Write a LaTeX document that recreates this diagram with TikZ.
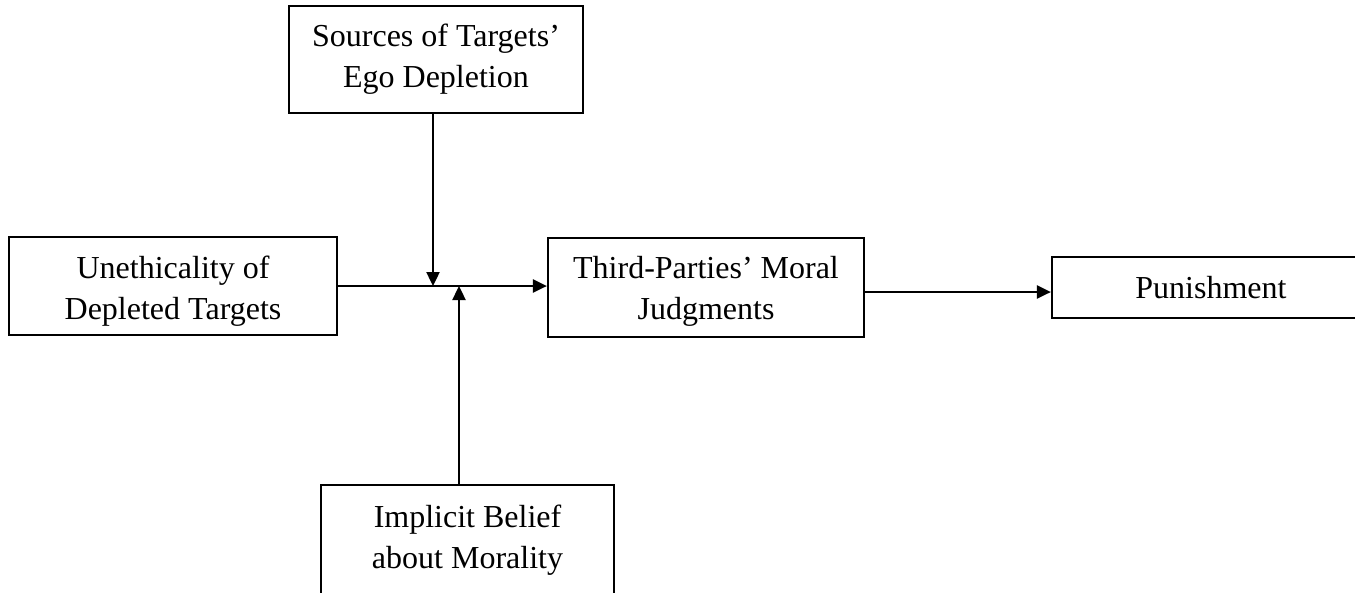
\documentclass[tikz,border=0pt]{standalone}
\usepackage{fontspec}
\setmainfont{Liberation Serif}
\usetikzlibrary{arrows.meta}
\begin{document}
\begin{tikzpicture}[x=1pt,y=-1pt,
  box/.style={draw=black,line width=2.2pt,inner sep=0pt,align=center,
    font=\fontsize{32}{41}\selectfont},
  arr/.style={line width=2.4pt,-{Triangle[length=14pt,width=13pt]}}]
\fill[white] (0,0) rectangle (1355,592);
\useasboundingbox (0,0) rectangle (1355,592);
\node[box,minimum width=294pt,minimum height=107pt] (src) at (436,59.5) {Sources of Targets’\\Ego Depletion};
\node[box,minimum width=328pt,minimum height=98pt] (une) at (173,286) {\rule{0pt}{33pt}Unethicality of\\Depleted Targets};
\node[box,minimum width=316pt,minimum height=99pt] (tp) at (706,287.5) {\rule{0pt}{30pt}Third-Parties’ Moral\\Judgments};
\node[box,minimum width=318pt,minimum height=61pt] (pun) at (1211,287.5) {Punishment};
\node[box,minimum width=293pt,minimum height=110pt] (imp) at (467.5,540) {Implicit Belief\\about Morality};
\coordinate (m1) at (433,286);
\coordinate (m2) at (459,286);
\draw[arr] (une.east) -- (une.east -| tp.west);
\draw[arr] ([yshift=-4.5pt]tp.east) -- ([yshift=-4.5pt]tp.east -| pun.west);
\draw[arr] (src.south -| m1) -- (m1);
\draw[arr] (imp.north -| m2) -- (m2);
\end{tikzpicture}
\end{document}
